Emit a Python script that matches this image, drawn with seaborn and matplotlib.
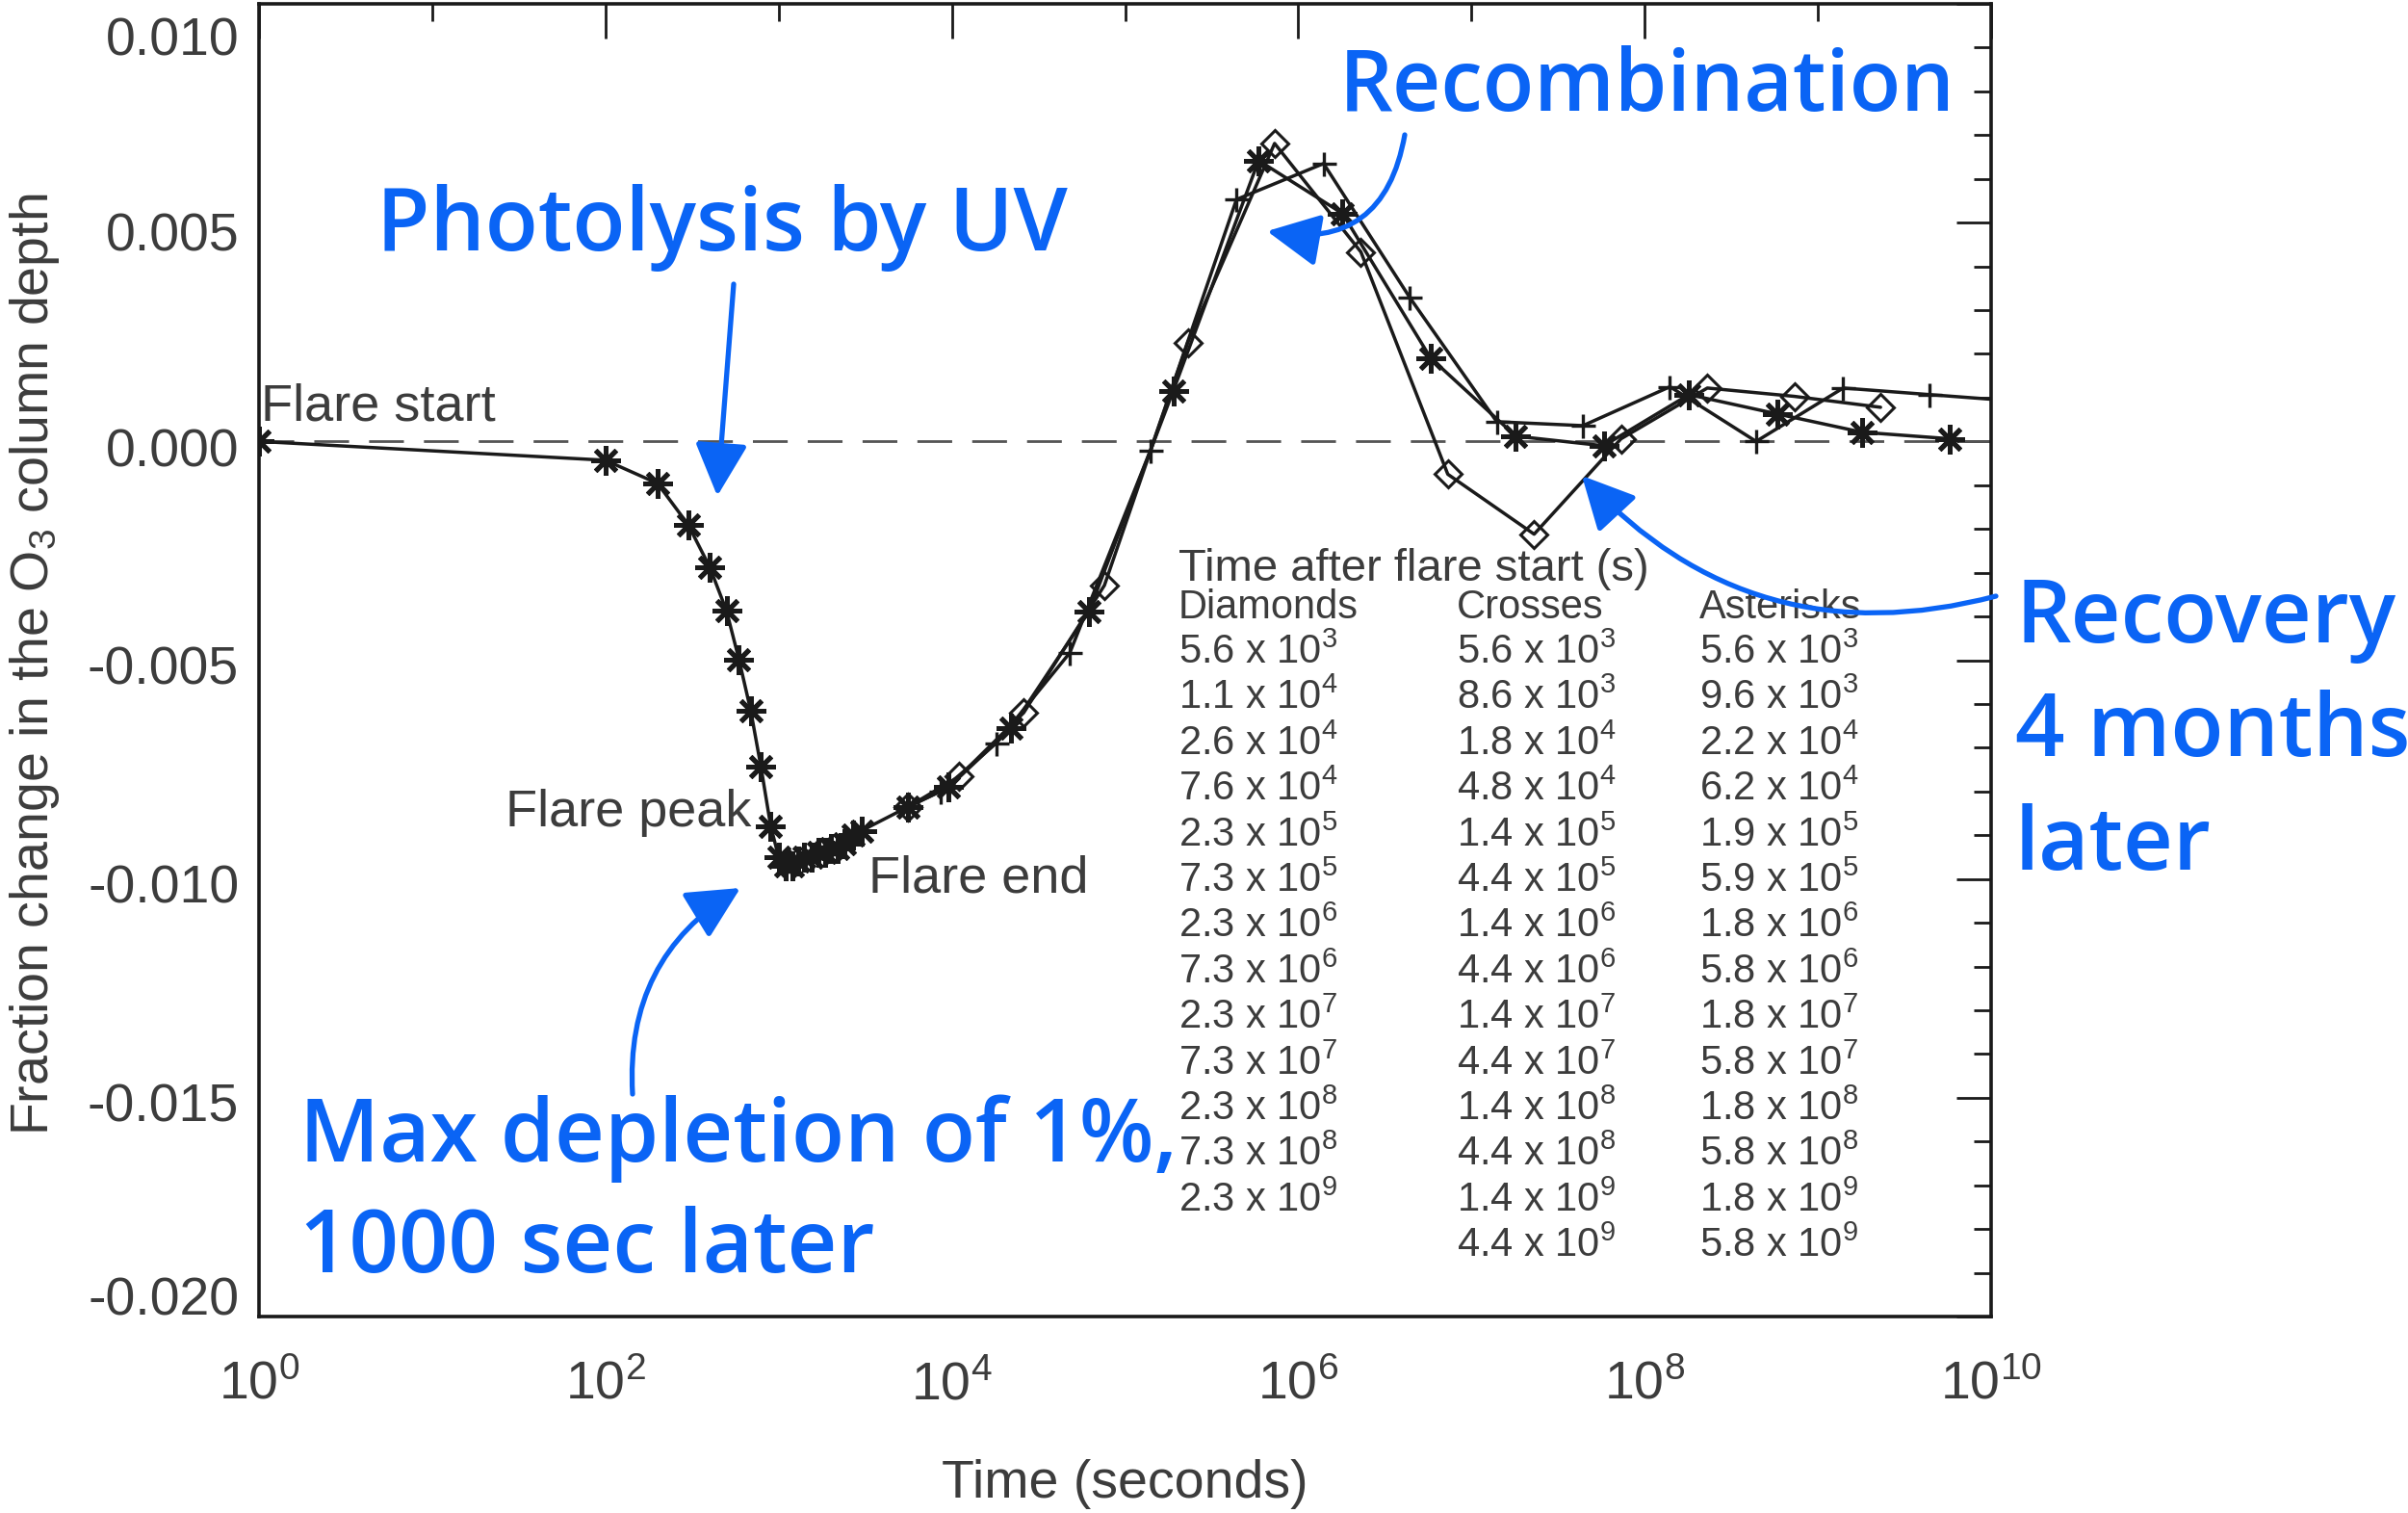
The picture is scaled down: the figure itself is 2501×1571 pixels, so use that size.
import numpy as np
import pandas as pd
import matplotlib
matplotlib.use("Agg")
import matplotlib.pyplot as plt
import seaborn as sns
from matplotlib.ticker import FixedLocator, NullFormatter, LogFormatterSciNotation
from matplotlib.transforms import ScaledTranslation

# ---------------- data ----------------
# flare phase (asterisks) + post-flare asterisk series
ast_t = [1, 100, 200, 300, 400, 500, 590, 690, 790, 900,
         1000, 1100, 1200, 1300, 1400, 1550, 1700, 1850, 2000, 2200, 2400, 2700, 3000,
         5.6e3, 9.6e3, 2.2e4, 6.2e4, 1.9e5, 5.9e5, 1.8e6, 5.8e6, 1.8e7, 5.8e7,
         1.8e8, 5.8e8, 1.8e9, 5.8e9]
ast_y = [0.0, -0.00043, -0.00096, -0.0019, -0.00287, -0.00387, -0.00498, -0.00615, -0.00743, -0.00879,
         -0.0095, -0.0097, -0.0097, -0.0096, -0.0095, -0.0095, -0.0094, -0.0094, -0.0093, -0.0093, -0.0092, -0.0090, -0.0089,
         -0.00835, -0.0079, -0.00656, -0.00388, 0.00116, 0.00642, 0.00521, 0.00191, 0.00012, -0.0001,
         0.00107, 0.00063, 0.00021, 0.00006]

dia_t = [5.6e3, 1.1e4, 2.6e4, 7.6e4, 2.3e5, 7.3e5, 2.3e6, 7.3e6, 2.3e7, 7.3e7, 2.3e8, 7.3e8, 2.3e9]
dia_y = [-0.00835, -0.00766, -0.0062, -0.00329, 0.00226, 0.00681, 0.00433, -0.00075, -0.00212,
         0.00006, 0.00122, 0.00103, 0.00078]

crs_t = [5.6e3, 8.6e3, 1.8e4, 4.8e4, 1.4e5, 4.4e5, 1.4e6, 4.4e6, 1.4e7, 4.4e7, 1.4e8, 4.4e8, 1.4e9, 4.4e9, 1.4e10]
crs_y = [-0.00835, -0.0080, -0.0069, -0.00483, -0.00021, 0.00553, 0.00635, 0.00329, 0.00045,
         0.00036, 0.00125, 0.0, 0.00122, 0.00107, 0.00092]

# legend table times (post-flare sample times)
tab_dia = dia_t
tab_crs = crs_t[:14]
tab_ast = ast_t[23:]

y_major = [0.010, 0.005, 0.000, -0.005, -0.010, -0.015, -0.020]
x_major = [1e0, 1e2, 1e4, 1e6, 1e8, 1e10]
x_minor = [1e1, 1e3, 1e5, 1e7, 1e9]

# ---------------- style ----------------
sns.set_theme(style="white")
plt.rcParams["font.family"] = ["Liberation Sans", "DejaVu Sans"]
plt.rcParams["mathtext.fontset"] = "custom"
plt.rcParams["mathtext.rm"] = "Liberation Sans"
plt.rcParams["mathtext.it"] = "Liberation Sans"
plt.rcParams["mathtext.default"] = "regular"
plt.rcParams["axes.unicode_minus"] = False

INK = "#1a1a1a"
GREY = "#3c3c3c"
BLUE = "#0a64f5"

W, H = 2501, 1571
fig = plt.figure(figsize=(W / 100, H / 100), dpi=100)
L, R, T, B = 269, 2068, 4, 1367
ax = fig.add_axes([L / W, 1 - B / H, (R - L) / W, (B - T) / H])
ax.set_facecolor("white")

ax.axhline(0, color="#555555", lw=2.0, dashes=(13, 7.5), zorder=1)

df_d = pd.DataFrame({"t": dia_t, "f": dia_y})
df_c = pd.DataFrame({"t": crs_t, "f": crs_y})
df_a = pd.DataFrame({"t": ast_t, "f": ast_y})

common = dict(ax=ax, color=INK, lw=2.5, estimator=None, errorbar=None, sort=False, legend=False)
sns.lineplot(data=df_d, x="t", y="f", marker="D", markersize=14,
             markerfacecolor="none", markeredgecolor=INK, markeredgewidth=2.2, zorder=3, **common)
sns.lineplot(data=df_c, x="t", y="f", marker="+", markersize=18,
             markeredgecolor=INK, markeredgewidth=2.4, zorder=3, **common)
sns.lineplot(data=df_a, x="t", y="f", marker=(8, 2, 0), markersize=22,
             markeredgecolor=INK, markeredgewidth=3.6, zorder=4, **common)

ax.set_xscale("log")
ax.set_xlim(1, 1e10)
ax.set_ylim(-0.020, 0.010)

ax.xaxis.set_major_locator(FixedLocator(x_major))
ax.xaxis.set_minor_locator(FixedLocator(x_minor))
ax.xaxis.set_major_formatter(LogFormatterSciNotation())
ax.xaxis.set_minor_formatter(NullFormatter())
ax.set_yticks(y_major)
ax.set_yticklabels([f"{v:.3f}" for v in y_major])
ax.yaxis.set_minor_locator(FixedLocator(np.arange(-0.020, 0.0105, 0.001)))

for s in ax.spines.values():
    s.set_linewidth(2.6)
    s.set_color(INK)

ax.tick_params(axis="both", which="both", direction="in", top=True, right=True,
               color=INK, width=2.0, labelcolor=GREY)
ax.tick_params(axis="both", which="major", length=26)
ax.tick_params(axis="both", which="minor", length=13)
ax.tick_params(axis="y", which="major", labelsize=40, pad=15)
ax.tick_params(axis="x", which="major", labelsize=40, pad=33)

# small vertical offsets of the y tick labels as in the original
offs = [33, 9, 6, 5, 5, 5, -22]
for tick, o in zip(ax.yaxis.get_major_ticks(), offs):
    tick.label1.set_transform(tick.label1.get_transform() +
                              ScaledTranslation(0, -o / 100, fig.dpi_scale_trans))

ax.set_xlabel("Time (seconds)", fontsize=40, color=GREY, labelpad=36)
ax.set_ylabel("Fraction change in the O$_3$ column depth", fontsize=40, color=GREY)
ax.yaxis.set_label_coords((64 - L) / (R - L), 0.497)

# in-plot labels
ax.text(1.02, 0.00047, "Flare start", fontsize=39, color=GREY, va="baseline", ha="left")
ax.text(694, -0.00879, "Flare peak", fontsize=39, color=GREY, va="baseline", ha="right")
ax.text(3300, -0.01031, "Flare end", fontsize=39, color=GREY, va="baseline", ha="left")

# legend table
def fmt(t):
    e = int(np.floor(np.log10(t) + 1e-9))
    m = t / 10 ** e
    return f"{m:.1f} x 10$^{{{e}}}$"

ax_y = lambda py: (B - py) / (B - T)
ax_x = lambda px: (px - L) / (R - L)
ax.text(ax_x(1224), ax_y(603), "Time after flare start (s)", transform=ax.transAxes,
        fontsize=34, color=GREY, va="baseline", ha="left")
cols = [(1224, "Diamonds", tab_dia), (1513, "Crosses", tab_crs), (1765, "Asterisks", tab_ast)]
for px, head, vals in cols:
    ax.text(ax_x(px), ax_y(642), head, transform=ax.transAxes, fontsize=30,
            color=GREY, va="baseline", ha="left")
    for i, t in enumerate(vals):
        ax.text(ax_x(px), ax_y(689 + 47.4 * i), fmt(t), transform=ax.transAxes,
                fontsize=30, color=GREY, va="baseline", ha="left")

# blue annotations (figure pixel positions)
def fp(px, py):
    return (px / W, 1 - py / H)

blue_kw = dict(color=BLUE, fontweight="semibold",
               family=["Open Sans", "DejaVu Sans"], va="baseline", ha="left")
fig.text(*fp(1391, 115), "Recombination", fontsize=63, **blue_kw)
fig.text(*fp(391, 260), "Photolysis by UV", fontsize=65, **blue_kw)
fig.text(*fp(2093, 667), "Recovery", fontsize=65, **blue_kw)
fig.text(*fp(2093, 785), "4 months", fontsize=65, **blue_kw)
fig.text(*fp(2093, 903), "later", fontsize=65, **blue_kw)
fig.text(*fp(311, 1206), "Max depletion of 1%,", fontsize=65, **blue_kw)
fig.text(*fp(311, 1321), "1000 sec later", fontsize=65, **blue_kw)

arrows = [((762, 295), (745, 515), 0.0),
          ((657, 1136), (769, 922), -0.3),
          ((1459, 140), (1316, 240), -0.5),
          ((2073, 619), (1643, 494), -0.3)]
for (sx, sy), (tx, ty), rad in arrows:
    fig.add_artist(matplotlib.patches.FancyArrowPatch(
        posA=fp(sx, sy), posB=fp(tx, ty), transform=fig.transFigure,
        arrowstyle="-|>,head_length=0.8,head_width=0.4", mutation_scale=42,
        connectionstyle=f"arc3,rad={rad}", color=BLUE, lw=3.8,
        shrinkA=0, shrinkB=0))

fig.savefig("out.png", dpi=100, facecolor="white")
